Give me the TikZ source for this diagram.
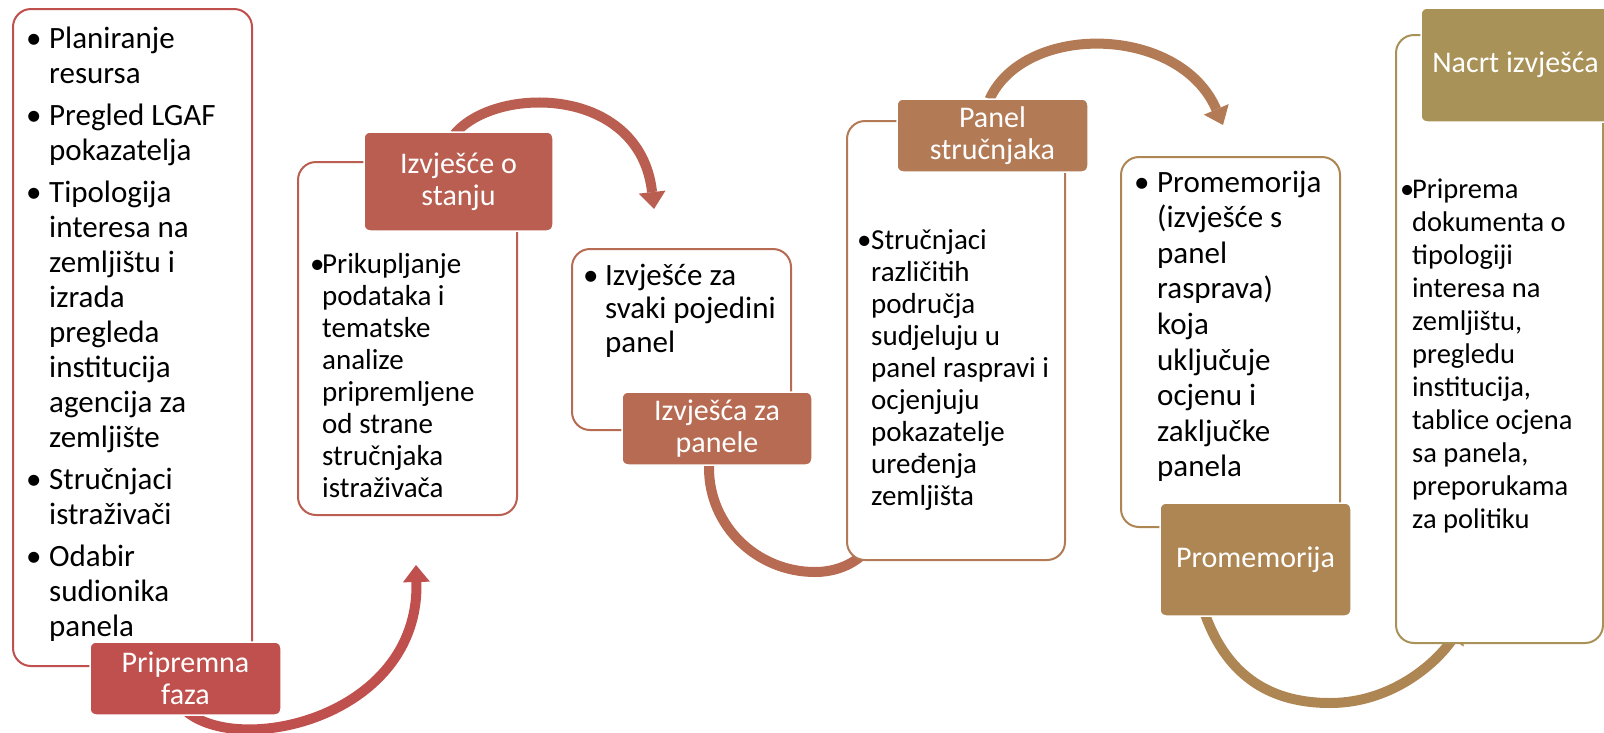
\documentclass[tikz,border=0pt]{standalone}
\usepackage{fontspec}
\setmainfont{Carlito}
\usetikzlibrary{arrows.meta,calc}
\pgfdeclarelayer{bg}
\pgfsetlayers{bg,main}
\definecolor{c1}{HTML}{C0504D}
\definecolor{c2}{HTML}{B95E50}
\definecolor{c3}{HTML}{B76B52}
\definecolor{c4}{HTML}{B27A55}
\definecolor{c5}{HTML}{AE8654}
\definecolor{c6}{HTML}{A89258}
\newcommand{\bu}[1]{\makebox[#1][l]{•}}
\tikzset{
  outl/.style={draw, line width=2pt, fill=white, rounded corners=18pt, inner sep=0pt, anchor=north west},
  lab/.style={draw=white, line width=1.5pt, rounded corners=6pt, text=white, align=center,
              inner sep=0pt, font=\fontsize{30}{32}\selectfont},
  flow/.style={line width=10pt, -{Triangle[width=27pt,length=17pt,line width=0pt]}},
  body/.style={anchor=base west, inner sep=0pt, text=black}
}
\begin{document}
\begin{tikzpicture}[x=1pt,y=-1pt]
\useasboundingbox (0,0) rectangle (1604,732);
% outline boxes
\node[outl, draw=c1, minimum width=239pt, minimum height=657pt] (o1) at (12,8) {};
\node[outl, draw=c2, minimum width=219pt, minimum height=353pt] (o2) at (297,161) {};
\node[outl, draw=c3, minimum width=219pt, minimum height=181pt] (o3) at (571,248) {};
\node[outl, draw=c4, minimum width=218pt, minimum height=439pt] (o4) at (846,120) {};
\node[outl, draw=c5, minimum width=219pt, minimum height=370pt] (o5) at (1120,156) {};
\node[outl, draw=c6, minimum width=207pt, minimum height=608pt] (o6) at (1395,34) {};
% labels
\node[lab, fill=c1, minimum width=191pt, minimum height=73pt] (l1) at (185.5,678.5) {Pripremna\\faza};
\node[lab, fill=c2, minimum width=189pt, minimum height=99pt] (l2) at (458.5,181.5) {Izvješće o\\stanju};
\node[lab, fill=c3, minimum width=190pt, minimum height=73pt] (l3) at (717,428.5) {Izvješća za\\panele};
\node[lab, fill=c4, minimum width=191pt, minimum height=73pt] (l4) at (992.5,135.5) {Panel\\stručnjaka};
\node[lab, fill=c5, minimum width=191pt, minimum height=113pt] (l5) at (1255.5,559.5) {Promemorija};
\node[lab, fill=c6, minimum width=189pt, minimum height=114pt] (l6) at (1515.5,65) {Nacrt izvješća};
% body texts
\node[body, font=\fontsize{31}{35}\selectfont] (t1) at (26,48) {\begin{tabular}[t]{@{}l@{}l@{}}
\bu{23pt}&Planiranje\\ &resursa\\[7pt]
\bu{23pt}&Pregled LGAF\\ &pokazatelja\\[7pt]
\bu{23pt}&Tipologija\\ &interesa na\\ &zemljištu i\\ &izrada\\ &pregleda\\ &institucija\\ &agencija za\\ &zemljište\\[7pt]
\bu{23pt}&Stručnjaci\\ &istraživači\\[7pt]
\bu{23pt}&Odabir\\ &sudionika\\ &panela
\end{tabular}};
\node[body, font=\fontsize{29}{32}\selectfont] (t2) at (310,273) {\begin{tabular}[t]{@{}l@{}l@{}}
\bu{12pt}&Prikupljanje\\ &podataka i\\ &tematske\\ &analize\\ &pripremljene\\ &od strane\\ &stručnjaka\\ &istraživača
\end{tabular}};
\node[body, font=\fontsize{31}{33.5}\selectfont] (t3) at (583,285) {\begin{tabular}[t]{@{}l@{}l@{}}
\bu{22pt}&Izvješće za\\ &svaki pojedini\\ &panel
\end{tabular}};
\node[body, font=\fontsize{29}{32}\selectfont] (t4) at (857,249) {\begin{tabular}[t]{@{}l@{}l@{}}
\bu{14pt}&Stručnjaci\\ &različitih\\ &područja\\ &sudjeluju u\\ &panel raspravi i\\ &ocjenjuju\\ &pokazatelje\\ &uređenja\\ &zemljišta
\end{tabular}};
\node[body, font=\fontsize{31}{35.6}\selectfont] (t5) at (1134,192) {\begin{tabular}[t]{@{}l@{}l@{}}
\bu{23pt}&Promemorija\\ &(izvješće s\\ &panel\\ &rasprava)\\ &koja\\ &uključuje\\ &ocjenu i\\ &zaključke\\ &panela
\end{tabular}};
\node[body, font=\fontsize{28.5}{33}\selectfont] (t6) at (1400,198) {\begin{tabular}[t]{@{}l@{}l@{}}
\bu{12pt}&Priprema\\ &dokumenta o\\ &tipologiji\\ &interesa na\\ &zemljištu,\\ &pregledu\\ &institucija,\\ &tablice ocjena\\ &sa panela,\\ &preporukama\\ &za politiku
\end{tabular}};
% connectors (behind boxes)
\begin{pgfonlayer}{bg}
\coordinate (a1e) at (416,565);
\coordinate (a2e) at (654,209);
\coordinate (a3e) at (876,538);
\coordinate (a4e) at (1223,125);
\coordinate (a5e) at (1462,625);
\draw[flow, c1] ($(l1.south)+(-4,-9)$) .. controls (230,760) and (420,720) .. (a1e);
\draw[flow, c2] ($(l2.north)+(-4,3)$) .. controls (495,85) and (640,85) .. (a2e);
\draw[flow, c3] ($(l3.south)+(-8,-10)$) -- (709,468) .. controls (709,526) and (757,572) .. (815,572)
   .. controls (845,572) and (862,556) .. (a3e);
\draw[flow, c4] ($(l4.north)+(-3,1)$) .. controls (1025,22) and (1180,25) .. (a4e);
\draw[flow, c5] ($(l5.south)+(-51,-4)$) .. controls (1228,680) and (1275,703) .. (1330,703)
   .. controls (1390,703) and (1435,665) .. (a5e);
\end{pgfonlayer}
\end{tikzpicture}
\end{document}
